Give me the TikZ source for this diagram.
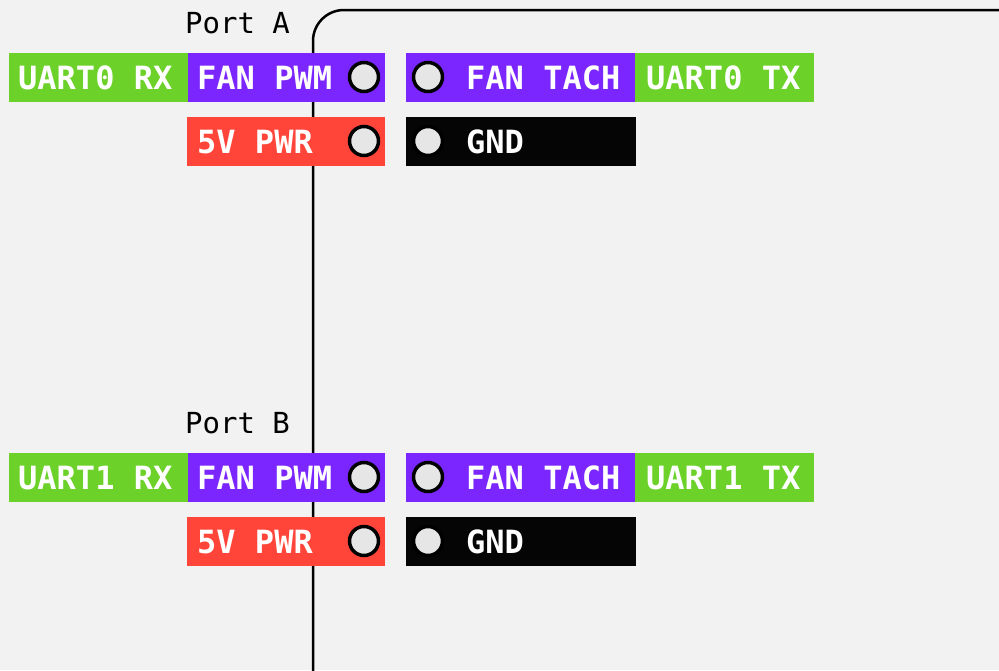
\documentclass[tikz,border=0pt]{standalone}
\usepackage{fontspec}
\newfontfamily\monofont{DejaVu Sans Mono}
\definecolor{bgcol}{HTML}{F2F2F2}
\definecolor{uartgreen}{HTML}{6CD22A}
\definecolor{fanpurple}{HTML}{7B26FF}
\definecolor{pwrred}{HTML}{FF453A}
\definecolor{gndblack}{HTML}{050505}
\definecolor{holegray}{HTML}{E6E6E6}
\begin{document}
\begin{tikzpicture}[x=1pt,y=-1pt,
  pinbox/.style={rectangle, draw=none, anchor=north west, minimum height=49pt, inner sep=0pt},
  pintext/.style={anchor=west, inner sep=0pt, text=white, font=\monofont\bfseries\fontsize{32}{32}\selectfont},
  hole/.style={circle, draw=black, line width=3.5pt, fill=holegray, minimum size=29pt, inner sep=0pt},
  porttext/.style={anchor=base west, inner sep=0pt, text=black, font=\monofont\fontsize{29}{29}\selectfont}]
\useasboundingbox (0,0) rectangle (999,670);
\clip (0,0) rectangle (999,670);
\fill[bgcol] (0,0) rectangle (999,670);
% board outline
\draw[line width=2.5pt, rounded corners=31pt] (313,720) -- (313,10) -- (1100,10);

\foreach \oy/\n/\p in {0/0/A, 400/1/B} {
  \node[porttext] (port\p) at (185,33+\oy) {Port \p};
  % left side
  \node[pinbox, fill=uartgreen, minimum width=179pt] (rx\p) at (9,53+\oy) {};
  \node[pinbox, fill=fanpurple, minimum width=197pt] (pwm\p) at (188,53+\oy) {};
  \node[pinbox, fill=pwrred, minimum width=198pt] (pwr\p) at (187,117+\oy) {};
  % right side
  \node[pinbox, fill=fanpurple, minimum width=229pt] (tach\p) at (406,53+\oy) {};
  \node[pinbox, fill=uartgreen, minimum width=179pt] (tx\p) at (635,53+\oy) {};
  \node[pinbox, fill=gndblack, minimum width=230pt] (gnd\p) at (406,117+\oy) {};
  % holes
  \node[hole] (hpwm\p) at (364,77+\oy) {};
  \node[hole] (hpwr\p) at (364,141+\oy) {};
  \node[hole] (htach\p) at (428,77+\oy) {};
  \node[hole] (hgnd\p) at (428,141+\oy) {};
  % labels
  \node[pintext] (rxt\p) at ([xshift=9pt]rx\p.west) {UART\n\ RX};
  \node[pintext] (pwmt\p) at ([xshift=9pt]pwm\p.west) {FAN PWM};
  \node[pintext] (pwrt\p) at ([xshift=10pt]pwr\p.west) {5V PWR};
  \node[pintext] (tacht\p) at ([xshift=60pt]tach\p.west) {FAN TACH};
  \node[pintext] (txt\p) at ([xshift=11pt]tx\p.west) {UART\n\ TX};
  \node[pintext] (gndt\p) at ([xshift=60pt]gnd\p.west) {GND};
}
\end{tikzpicture}
\end{document}
